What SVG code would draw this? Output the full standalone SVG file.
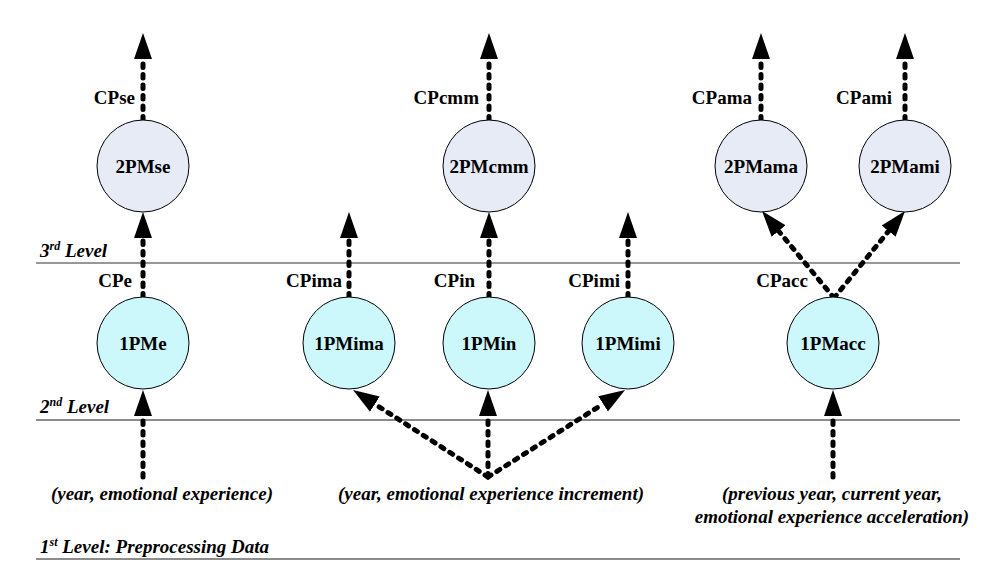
<svg xmlns="http://www.w3.org/2000/svg" width="1007" height="574" viewBox="0 0 1007 574">
<style>
.n1{fill:#ccf8fc;stroke:#000;stroke-width:1}
.n2{fill:#e6ebf6;stroke:#000;stroke-width:1}
.nt{font-family:"Liberation Serif","Times New Roman",serif;font-weight:bold;font-size:19px;text-anchor:middle;fill:#000}
.el{font-family:"Liberation Serif","Times New Roman",serif;font-weight:bold;font-size:19px;text-anchor:end;fill:#000}
.lv{font-family:"Liberation Serif","Times New Roman",serif;font-weight:bold;font-style:italic;font-size:19px;fill:#000}
.dt{font-family:"Liberation Serif","Times New Roman",serif;font-weight:bold;font-style:italic;font-size:19px;text-anchor:middle;fill:#000}
.ed{fill:none;stroke:#000;stroke-width:5;stroke-dasharray:3.5 7;stroke-linecap:round;marker-end:url(#ah)}
</style>
<defs>
<marker id="ah" markerUnits="userSpaceOnUse" markerWidth="30" markerHeight="20" viewBox="0 -10 30 20" refX="0" refY="0" orient="auto">
<path d="M0,-9 L26,0 L0,9 Z" fill="#000"/>
</marker>
</defs>
<rect width="1007" height="574" fill="#fff"/>
<g id="levels">
<line x1="36" y1="263" x2="960" y2="263" stroke="#333" stroke-width="1.2"/>
<line x1="36" y1="420" x2="960" y2="420" stroke="#666" stroke-width="1.6"/>
<line x1="36" y1="559" x2="960" y2="559" stroke="#666" stroke-width="1.6"/>
<text class="lv" x="40" y="257">3<tspan font-size="12" dy="-7">rd</tspan><tspan dy="7"> Level</tspan></text>
<text class="lv" x="40" y="413">2<tspan font-size="12" dy="-7">nd</tspan><tspan dy="7"> Level</tspan></text>
<text class="lv" x="40" y="553">1<tspan font-size="12" dy="-7">st</tspan><tspan dy="7"> Level: Preprocessing Data</tspan></text>
</g>
<g id="connectors">
<line class="ed" x1="143" y1="120" x2="143" y2="59"/>
<line class="ed" x1="489" y1="120" x2="489" y2="59"/>
<line class="ed" x1="761" y1="120" x2="761" y2="59"/>
<line class="ed" x1="905" y1="120" x2="905" y2="59"/>
<line class="ed" x1="143" y1="297" x2="143" y2="238"/>
<line class="ed" x1="349" y1="297" x2="349" y2="238"/>
<line class="ed" x1="489" y1="297" x2="489" y2="238"/>
<line class="ed" x1="628" y1="297" x2="628" y2="238"/>
<line class="ed" x1="834" y1="298" x2="778.6" y2="231"/>
<line class="ed" x1="834" y1="298" x2="888.6" y2="231.1"/>
<line class="ed" x1="143" y1="477" x2="143" y2="416"/>
<line class="ed" x1="488" y1="477" x2="374.9" y2="404.1"/>
<line class="ed" x1="488" y1="477" x2="488" y2="416"/>
<line class="ed" x1="488" y1="477" x2="603.1" y2="403.9"/>
<line class="ed" x1="833" y1="477" x2="833" y2="416"/>
<text class="el" x="135" y="104">CPse</text>
<text class="el" x="479" y="104">CPcmm</text>
<text class="el" x="752" y="104">CPama</text>
<text class="el" x="892" y="104">CPami</text>
<text class="el" x="132" y="287">CPe</text>
<text class="el" x="342" y="287">CPima</text>
<text class="el" x="475" y="287">CPin</text>
<text class="el" x="620" y="287">CPimi</text>
<text class="el" x="808" y="287">CPacc</text>
</g>
<g id="n2PMse"><circle class="n2" cx="143" cy="166" r="46"/><text class="nt" x="143" y="173">2PMse</text></g>
<g id="n2PMcmm"><circle class="n2" cx="489" cy="166" r="46"/><text class="nt" x="489" y="173">2PMcmm</text></g>
<g id="n2PMama"><circle class="n2" cx="761" cy="166" r="46"/><text class="nt" x="761" y="173">2PMama</text></g>
<g id="n2PMami"><circle class="n2" cx="905" cy="166" r="46"/><text class="nt" x="905" y="173">2PMami</text></g>
<g id="n1PMe"><circle class="n1" cx="143" cy="343" r="46"/><text class="nt" x="143" y="350">1PMe</text></g>
<g id="n1PMima"><circle class="n1" cx="349" cy="343" r="46"/><text class="nt" x="349" y="350">1PMima</text></g>
<g id="n1PMin"><circle class="n1" cx="489" cy="343" r="46"/><text class="nt" x="489" y="350">1PMin</text></g>
<g id="n1PMimi"><circle class="n1" cx="628" cy="343" r="46"/><text class="nt" x="628" y="350">1PMimi</text></g>
<g id="n1PMacc"><circle class="n1" cx="833" cy="343" r="46"/><text class="nt" x="833" y="350">1PMacc</text></g>
<g id="data">
<text class="dt" x="162" y="500">(year, emotional experience)</text>
<text class="dt" x="491" y="500">(year, emotional experience increment)</text>
<text class="dt" x="832" y="500">(previous year, current year,</text>
<text class="dt" x="832" y="523">emotional experience acceleration)</text>
</g>
</svg>
